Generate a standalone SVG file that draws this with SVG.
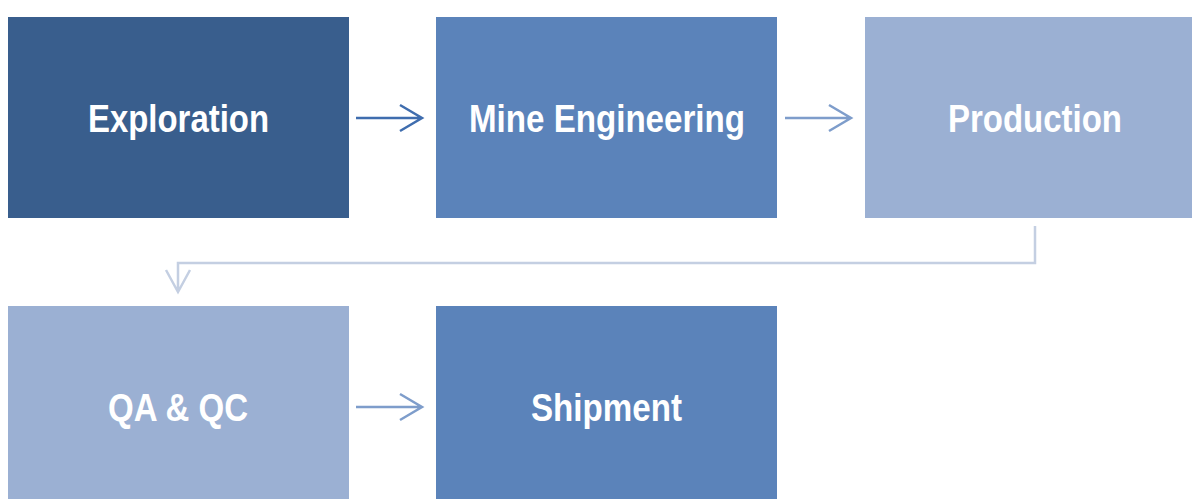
<svg xmlns="http://www.w3.org/2000/svg" width="1192" height="499" viewBox="0 0 1192 499">
<style>
.lbl{font-family:"Liberation Sans Narrow","Arial Narrow","Liberation Sans",sans-serif;font-weight:bold;font-size:39px;fill:#fff;text-anchor:middle;dominant-baseline:central}
.dark{fill:#395E8D}.mid{fill:#5B83BA}.light{fill:#9BB0D3}
.conn{fill:none;stroke-width:2.5}
</style>
<rect width="1192" height="499" fill="#fff"/>
<g id="exploration"><rect class="dark" x="8" y="17" width="341" height="201"/><text class="lbl" x="178.5" y="118" textLength="181" lengthAdjust="spacingAndGlyphs">Exploration</text></g>
<g id="mine-engineering"><rect class="mid" x="436" y="17" width="341" height="201"/><text class="lbl" x="607" y="118" textLength="276" lengthAdjust="spacingAndGlyphs">Mine Engineering</text></g>
<g id="production"><rect class="light" x="865" y="17" width="327" height="201"/><text class="lbl" x="1035" y="118" textLength="174" lengthAdjust="spacingAndGlyphs">Production</text></g>
<g id="qa-qc"><rect class="light" x="8" y="306" width="341" height="193"/><text class="lbl" x="178" y="407" textLength="140" lengthAdjust="spacingAndGlyphs">QA &amp; QC</text></g>
<g id="shipment"><rect class="mid" x="436" y="306" width="341" height="193"/><text class="lbl" x="606.5" y="407" textLength="151" lengthAdjust="spacingAndGlyphs">Shipment</text></g>
<g id="connectors">
<path class="conn" stroke="#3F6DAE" d="M356 118H422M400 105L422 118L400 131"/>
<path class="conn" stroke="#7E9DCB" d="M785 118H851M829 105L851 118L829 131"/>
<path class="conn" stroke="#C4CFE2" d="M1035 226V263H178V292M166 270L178 292L190 270"/>
<path class="conn" stroke="#7E9DCB" d="M356 407H422M400 394L422 407L400 420"/>
</g>
</svg>
